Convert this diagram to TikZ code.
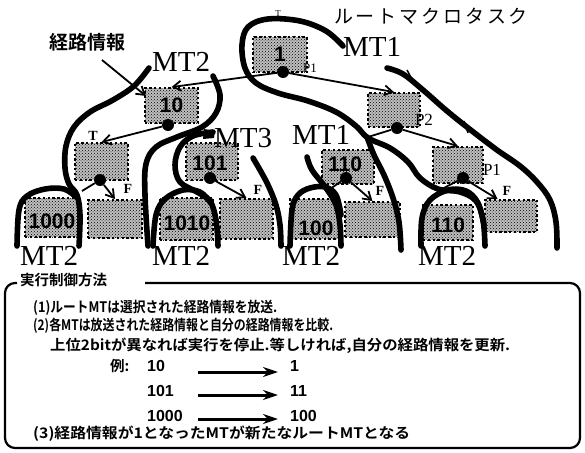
\documentclass[tikz,border=0pt]{standalone}
\usepackage{fontspec}
\usepackage{graphicx}
\setmainfont{Liberation Serif}
\newfontfamily\jp{Noto Sans CJK JP}[BoldFont={Noto Sans CJK JP Bold}]
\newfontfamily\jpsp{Noto Sans CJK JP}[LetterSpace=15]
\newfontfamily\hv{Liberation Sans}
\usetikzlibrary{patterns,arrows.meta,calc}
\begin{document}
\begin{tikzpicture}[x=1pt,y=-1pt,
  mt/.style={line width=5.6pt, line cap=round, line join=round},
  box/.style={draw=black, line width=1.8pt, dash pattern=on 2.4pt off 2.4pt, fill=black!25,
    postaction={pattern=crosshatch dots}, inner sep=0pt,
    font=\hv\bfseries\fontsize{21}{21}\selectfont},
  dot/.style={circle, fill=black, inner sep=0pt, minimum size=12pt},
  conn/.style={line width=1.8pt, -{Straight Barb[length=8pt,width=10pt,line width=1.8pt]}},
  tline/.style={line width=1.8pt},
  tick/.style={line width=1.5pt},
  mtlab/.style={font=\fontsize{29}{29}\selectfont, inner sep=0pt},
  flab/.style={font=\bfseries\fontsize{14}{14}\selectfont, inner sep=0pt},
  plab/.style={font=\fontsize{17}{17}\selectfont, inner sep=0pt},
  jt/.style={font=\jp\bfseries\fontsize{14.5}{14.5}\selectfont, inner sep=0pt, anchor=west},
  ex/.style={font=\hv\bfseries\fontsize{16}{16}\selectfont, inner sep=0pt, anchor=west},
  exarr/.style={line width=3pt, -{Stealth[length=15pt,width=10pt]}},
]
\useasboundingbox (0,0) rectangle (585,452);

% ---------- boxes ----------
\node[box, minimum width=54pt, minimum height=35pt] (b1) at (280,54.5) {1};
\node[box, minimum width=53pt, minimum height=35pt] (b10) at (171.5,105.5) {10};
\node[box, minimum width=53pt, minimum height=37pt] (bT) at (101.5,161.5) {};
\node[box, minimum width=53pt, minimum height=39pt] (b1000) at (51.5,217.5) {};
\node[box, minimum width=54pt, minimum height=38pt] (bF1) at (115,219) {};
\node[box, minimum width=52pt, minimum height=37pt] (b101) at (212,161.5) {};
\node[box, minimum width=53pt, minimum height=42pt] (b1010) at (186.5,219) {};
\node[box, minimum width=53pt, minimum height=40pt] (bF2) at (246.5,219) {};
\node[box, minimum width=52pt, minimum height=34pt] (b110m) at (348,167) {};
\node[box, minimum width=50pt, minimum height=40pt] (b100) at (315,219) {};
\node[box, minimum width=55pt, minimum height=35pt] (bF3) at (372.5,219.5) {};
\node[box, minimum width=52pt, minimum height=34pt] (bP2) at (394,110) {};
\node[box, minimum width=50pt, minimum height=36pt] (bP1) at (458,165) {};
\node[box, minimum width=50pt, minimum height=35pt] (b110r) at (448,222.5) {};
\node[box, minimum width=52pt, minimum height=32pt] (bF4) at (511,216) {};

\begin{scope}[every node/.style={font=\hv\bfseries\fontsize{21}{21}\selectfont, inner sep=0pt}]
\node (t1000) at (52,221) {1000};
\node (t101) at (210,163) {101};
\node (t1010) at (187,223) {1010};
\node (t110m) at (345,164) {110};
\node (t100) at (316,228) {100};
\node (t110r) at (448,225) {110};
\end{scope}

% ---------- dots ----------
\node[dot] (d1) at (283,72) {};
\node[dot] (d10) at (168,125) {};
\node[dot] (dT) at (100,180) {};
\node[dot] (d101) at (210,178) {};
\node[dot] (d110) at (346,178) {};
\node[dot] (dP2) at (397,128) {};
\node[dot] (dP1) at (463,178) {};

% ---------- connectors ----------
\draw[conn] (d1) -- (b10.north);
\draw[conn] (d1) -- (bP2.north);
\draw[conn] (d10) -- (bT.north);
\draw[conn] (dT) -- (bF1.north);
\draw[conn] (d101) -- (bF2.north);
\draw[conn] (d110) -- (bF3.north);
\draw[conn] (dP2) -- (bP1.north);
\draw[conn] (dP1) -- ($(bF4.north)!0.5!(bF4.north west)$);
\coordinate (tP2) at (368,137);
\coordinate (tP1) at (440,190);
\coordinate (t110) at (330,189);
\coordinate (tTb) at (82,191);
\draw[tline] (dP2) -- (tP2);
\draw[tline] (dP1) -- (tP1);
\draw[tline] (d110) -- (t110);
\draw[tline] (dT) -- (tTb);

% ---------- thick macrotask curves ----------
% MT1 root loop
\draw[mt] plot[smooth, tension=0.6] coordinates {(343,46) (326,31) (300,21) (268,19) (248,27) (242,45) (245,68) (256,83) (278,93) (308,101) (336,112) (356,126) (368,138) (390,148) (408,162) (420,178) (438,189) (460,192) (476,201) (483,220) (485,246)};
\draw[mt] plot[smooth, tension=0.6] coordinates {(367,137) (374,155) (384,175) (393,198) (399,222) (401,250)};
% outer right
\draw[mt] plot[smooth, tension=0.6] coordinates {(387,68) (403,74) (423,90) (447,111) (472,131) (497,150) (520,166) (537,182) (550,200) (556,222) (557,248)};
\draw[tick] (407,70) -- (413,81);
\draw[tick] (464,121) -- (468,133);
% arch over right 110
\draw[mt] plot[smooth, tension=0.6] coordinates {(421,246) (422,218) (430,200) (448,190) (466,191) (478,203) (484,225)};
% MT1 middle
\draw[mt] plot[smooth, tension=0.6] coordinates {(307,157) (312,170) (326,188) (336,205) (340,225) (341,246)};
% arch over 100
\draw[mt] plot[smooth, tension=0.6] coordinates {(290,246) (292,210) (298,195) (310,188) (325,187) (336,195) (341,215)};
% right of 101
\draw[mt] plot[smooth, tension=0.6] coordinates {(253,158) (260,170) (268,185) (276,205) (280,225) (281,246)};
% MT3
\draw[mt] plot[smooth, tension=0.6] coordinates {(213,132) (193,136) (180,147) (175,165) (180,182) (197,192) (210,201) (216,220) (218,246)};
\fill (204,129) -- (215,131) -- (214,138) -- (203,139) -- cycle;
% arch over 1010
\draw[mt] plot[smooth, tension=0.6] coordinates {(153,246) (156,215) (165,199) (183,190) (200,192) (210,202)};
% MT2 right
\draw[mt] plot[smooth, tension=0.6] coordinates {(213,76) (220,95) (216,113) (202,127) (177,137) (156,147) (146,164) (145,195) (148,246)};
% MT2 left
\draw[mt] plot[smooth, tension=0.6] coordinates {(149,68) (134,86) (113,100) (90,112) (74,127) (66,146) (65,168) (69,184) (77,195) (80,215) (79,246)};
% arch over 1000
\draw[mt] plot[smooth, tension=0.6] coordinates {(17,246) (19,210) (27,196) (45,189) (64,189) (76,197)};

% ---------- labels ----------
\node[mtlab] (mt1a) at (372,47) {MT1};
\node[mtlab] (mt2a) at (181,62) {MT2};
\node[mtlab] (mt3) at (243,138) {MT3};
\node[mtlab] (mt1b) at (321,135) {MT1};
\node[mtlab] (mt2b) at (49,256) {MT2};
\node[mtlab] (mt2c) at (181,256) {MT2};
\node[mtlab] (mt2d) at (311,256) {MT2};
\node[mtlab] (mt2e) at (447,256) {MT2};

\node[font=\fontsize{13}{13}\selectfont, inner sep=0pt] (p1a) at (310,68) {P1};
\node[plab] (p2) at (424,120) {P2};
\node[plab] (p1b) at (492,170) {P1};
\node[font=\fontsize{9}{9}\selectfont, inner sep=0pt] (tt1) at (278,14) {T};
\node[flab] (tt2) at (93,136) {T};
\node[flab] (f1) at (128,189) {F};
\node[flab] (f2) at (258,190) {F};
\node[flab] (f3) at (380,191) {F};
\node[flab] (f4) at (507,191) {F};

\node[font=\jp\bfseries\fontsize{19}{19}\selectfont, inner sep=0pt] (keiro) at (87,42) {経路情報};
\coordinate (keiroTip) at (146,96);
\draw[conn] (102,60) -- (keiroTip);
\node[font=\jpsp\fontsize{19}{19}\selectfont, inner sep=0pt] (root) at (431,16) {ルートマクロタスク};

% ---------- bottom panel ----------
\draw[line width=2.2pt, rounded corners=10pt] (145,283) -- (580,283) -- (580,448) -- (5,448) -- (5,283) -- (17,283);
\node[jt] (title) at (20,280) {実行制御方法};
\node[jt] (l1) at (33,308) {\resizebox{244pt}{\height}{(1)ルートMTは選択された経路情報を放送.}};
\node[jt] (l2) at (33,326) {\resizebox{300pt}{\height}{(2)各MTは放送された経路情報と自分の経路情報を比較.}};
\node[jt] (l3) at (50,346) {\resizebox{460pt}{\height}{上位2bitが異なれば実行を停止.等しければ,自分の経路情報を更新.}};
\node[jt] (rei) at (110,366) {例:};
\node[ex] (e1) at (147,366) {10};
\node[ex] (e2) at (147,391) {101};
\node[ex] (e3) at (147,416) {1000};
\node[ex] (r1) at (290,366) {1};
\node[ex] (r2) at (290,391) {11};
\node[ex] (r3) at (290,416) {100};
\coordinate (a1s) at (198,372); \coordinate (a1e) at (278,372);
\coordinate (a2s) at (198,395); \coordinate (a2e) at (278,395);
\coordinate (a3s) at (198,419); \coordinate (a3e) at (278,419);
\draw[exarr] (a1s) -- (a1e);
\draw[exarr] (a2s) -- (a2e);
\draw[exarr] (a3s) -- (a3e);
\node[jt] (l4) at (33,434) {\resizebox{377pt}{\height}{(3)経路情報が1となったMTが新たなルートMTとなる}};
\end{tikzpicture}
\end{document}
